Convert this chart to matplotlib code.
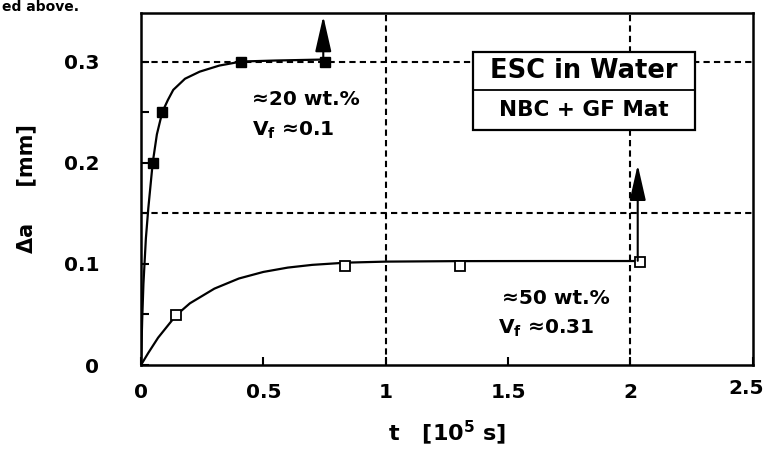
import matplotlib.pyplot as plt
from matplotlib.patches import Rectangle
from matplotlib.transforms import ScaledTranslation

plt.rcParams['font.family'] = 'DejaVu Sans'
plt.rcParams['font.weight'] = 'bold'
plt.rcParams['axes.labelweight'] = 'bold'
plt.rcParams['mathtext.fontset'] = 'dejavusans'
plt.rcParams['mathtext.default'] = 'bf'

# measured points (t in 1e5 s, crack growth in mm)
t_20 = [0.048, 0.087, 0.41, 0.75]
a_20 = [0.200, 0.250, 0.300, 0.300]
t_50 = [0.143, 0.834, 1.305, 2.04]
a_50 = [0.049, 0.098, 0.098, 0.1015]

# fitted curves
fit_t_20 = [0, 0.005, 0.01, 0.02, 0.03, 0.048, 0.065, 0.087, 0.11, 0.132,
            0.18, 0.24, 0.32, 0.41, 0.55, 0.75]
fit_a_20 = [0, 0.045, 0.08, 0.125, 0.155, 0.2, 0.228, 0.25, 0.262, 0.272,
            0.283, 0.290, 0.296, 0.300, 0.301, 0.302]
fit_t_50 = [0, 0.03, 0.07, 0.143, 0.2, 0.3, 0.4, 0.5, 0.6, 0.7, 0.84, 1.0,
            1.3, 1.7, 2.04]
fit_a_50 = [0, 0.012, 0.027, 0.049, 0.061, 0.0755, 0.0855, 0.092, 0.0963,
            0.099, 0.1012, 0.1022, 0.1027, 0.1028, 0.1028]

# arrows: (x, start, tip)
arrows = [(0.745, 0.302, 0.345), (2.03, 0.103, 0.198)]

xticks = [0, 0.5, 1, 1.5, 2, 2.5]
xlabels = ['0', '0.5', '1', '1.5', '2', '2.5']

fig = plt.figure(figsize=(7.67, 4.57), dpi=100)
ax = fig.add_axes([0.1838, 0.2013, 0.7976, 0.7703])

# dashed grid
for y in [0.15, 0.3]:
    ax.axhline(y, color='black', lw=1.5, ls=(0, (3, 2)), zorder=1)
for x in [1, 2]:
    ax.axvline(x, color='black', lw=1.5, ls=(0, (3, 2)), zorder=1)

ax.plot(fit_t_20, fit_a_20, color='black', lw=1.6, zorder=3)
ax.plot(fit_t_50, fit_a_50, color='black', lw=1.6, zorder=3)
ax.plot(t_20, a_20, 's', ms=7, color='black', zorder=4)
ax.plot(t_50, a_50, 's', ms=7, mfc='white', mec='black', mew=1.3, zorder=4)

for x, y0, y1 in arrows:
    ax.annotate('', xy=(x, y1), xytext=(x, y0),
                arrowprops=dict(arrowstyle='-|>,head_length=1.1,head_width=0.25',
                                mutation_scale=20, lw=1.5, color='black',
                                shrinkA=0, shrinkB=0), zorder=5)

ax.text(0.454, 0.262, '≈20 wt.%', fontsize=14.5, va='center', ha='left')
ax.text(0.454, 0.232, 'V$_f$ ≈0.1', fontsize=14.5, va='center', ha='left')
ax.text(1.476, 0.066, '≈50 wt.%', fontsize=14.5, va='center', ha='left')
ax.text(1.46, 0.036, 'V$_f$ ≈0.31', fontsize=14.5, va='center', ha='left')

# title box
bx0, bx1, by0, bdiv, by1 = 0.543, 0.906, 0.668, 0.781, 0.889
ax.add_patch(Rectangle((bx0, by0), bx1 - bx0, by1 - by0, transform=ax.transAxes,
                       facecolor='white', edgecolor='black', lw=1.6, zorder=6))
ax.plot([bx0, bx1], [bdiv, bdiv], transform=ax.transAxes, color='black',
        lw=1.3, zorder=7)
ax.text((bx0 + bx1) / 2, (bdiv + by1) / 2, 'ESC in Water', transform=ax.transAxes,
        fontsize=18.5, ha='center', va='center', zorder=8)
ax.text((bx0 + bx1) / 2, (by0 + bdiv) / 2, 'NBC + GF Mat', transform=ax.transAxes,
        fontsize=15.5, ha='center', va='center', zorder=8)

ax.set_xlim(0, 2.5)
ax.set_ylim(0, 0.348)
ax.set_xticks(xticks)
ax.set_xticklabels(xlabels)
ax.set_yticks([0, 0.05, 0.1, 0.15, 0.2, 0.25, 0.3])
ax.set_yticklabels(['0', '', '0.1', '', '0.2', '', '0.3'])
ax.tick_params(axis='both', direction='in', length=6, width=1.5,
               labelsize=14.5)
ax.tick_params(axis='x', pad=13)
ax.tick_params(axis='y', pad=30)
for s in ax.spines.values():
    s.set_linewidth(1.8)

# last x label sits left of the tick so it stays inside the figure
last = ax.get_xticklabels()[-1]
last.set_ha('right')
last.set_transform(last.get_transform() + ScaledTranslation(8 / 72, 3 / 72, fig.dpi_scale_trans))

ax.set_xlabel('t   [10$^5$ s]', fontsize=16, labelpad=12)
ax.set_ylabel('Δa     [mm]', fontsize=15, labelpad=20)

fig.text(0.003, 0.999, 'ed above.', fontsize=10, va='top', ha='left')

fig.savefig('out.png', dpi=100)
